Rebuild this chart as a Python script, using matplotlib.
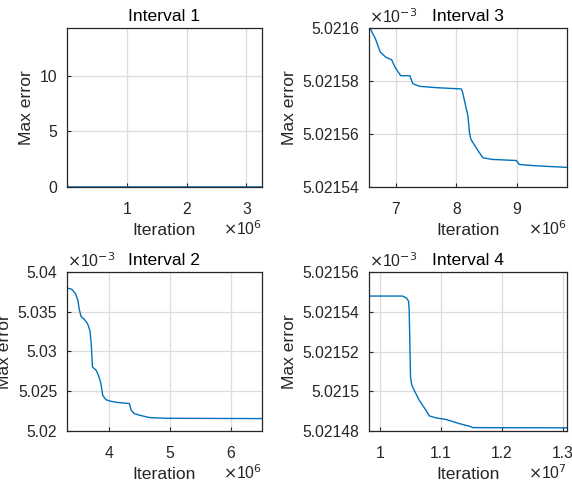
import matplotlib
matplotlib.use("Agg")
import matplotlib.pyplot as plt
from matplotlib.ticker import FuncFormatter, FixedLocator

plt.rcParams['font.family'] = ['Liberation Sans', 'DejaVu Sans']

# ---- data (x in iterations, y in units of 1e-3 except interval 1) ----
it1 = [1, 2000, 10000, 50000, 200000, 1000000, 2000000, 3260000]
err1 = [14.3, 0.4, 0.02, 0.0052, 0.00505, 0.00504, 0.00504, 0.00504]

it2 = [3.30e6, 3.38e6, 3.44e6, 3.48e6, 3.50e6, 3.53e6, 3.59e6, 3.64e6, 3.68e6,
       3.70e6, 3.72e6, 3.78e6, 3.82e6, 3.86e6, 3.89e6, 3.94e6, 4.00e6, 4.11e6,
       4.33e6, 4.36e6, 4.41e6, 4.50e6, 4.66e6, 4.94e6, 6.52e6]
err2 = [5.03799, 5.03782, 5.03728, 5.03644, 5.03539, 5.03443, 5.03401, 5.03350, 5.03258,
        5.03099, 5.02806, 5.02764, 5.02701, 5.02596, 5.02449, 5.02395, 5.02378, 5.02361,
        5.02345, 5.02261, 5.02219, 5.02198, 5.02169, 5.02160, 5.02156]

it3 = [6.57e6, 6.66e6, 6.74e6, 6.83e6, 6.93e6, 6.99e6, 7.08e6, 7.23e6, 7.28e6, 7.39e6,
       7.66e6, 8.08e6, 8.10e6, 8.14e6, 8.19e6, 8.22e6, 8.24e6, 8.35e6, 8.44e6, 8.60e6,
       8.99e6, 9.04e6, 9.32e6, 9.83e6]
err3 = [5.021600, 5.021596, 5.021591, 5.021589, 5.021588, 5.021585, 5.021582, 5.021582,
        5.021579, 5.021578, 5.0215775, 5.021577, 5.021576, 5.021572, 5.021567, 5.021560,
        5.021558, 5.021554, 5.021551, 5.0215504, 5.021550, 5.0215485, 5.021548, 5.0215474]

it4 = [0.9819e7, 1.0368e7, 1.0434e7, 1.0467e7, 1.0478e7, 1.0489e7, 1.0500e7, 1.0522e7,
       1.0560e7, 1.0643e7, 1.0753e7, 1.0808e7, 1.0918e7, 1.1082e7, 1.1302e7, 1.1467e7,
       1.1522e7, 1.3071e7]
err4 = [5.0215479, 5.0215479, 5.0215469, 5.0215454, 5.0215407, 5.021524, 5.0215072,
        5.021503, 5.0215005, 5.0214955, 5.0214904, 5.0214876, 5.0214866, 5.0214858,
        5.0214837, 5.0214824, 5.0214817, 5.0214816]

titles = ["Interval 1", "Interval 2", "Interval 3", "Interval 4"]

W, H = 572, 488
fig = plt.figure(figsize=(W / 100, H / 100), dpi=100)

def rect(l, t, r, b):
    return [l / W, 1 - b / H, (r - l) / W, (b - t) / H]

panels = [
    dict(rect=rect(67, 28, 262, 187), x=it1, y=err1, title=titles[0],
         xlim=(0, 3.26e6), ylim=(0, 14.3), xticks=[1e6, 2e6, 3e6], xscale=1e6, xexp="6",
         yticks=[0, 5, 10], ylabels=["0", "5", "10"], yexp=None),
    dict(rect=rect(67, 272, 262, 431), x=it2, y=err2, title=titles[1],
         xlim=(3.30e6, 6.52e6), ylim=(5.02, 5.04), xticks=[4e6, 5e6, 6e6], xscale=1e6, xexp="6",
         yticks=[5.02, 5.025, 5.03, 5.035, 5.04],
         ylabels=["5.02", "5.025", "5.03", "5.035", "5.04"], yexp="-3"),
    dict(rect=rect(369, 28, 567, 187), x=it3, y=err3, title=titles[2],
         xlim=(6.555e6, 9.83e6), ylim=(5.02154, 5.0216), xticks=[7e6, 8e6, 9e6], xscale=1e6, xexp="6",
         yticks=[5.02154, 5.02156, 5.02158, 5.0216],
         ylabels=["5.02154", "5.02156", "5.02158", "5.0216"], yexp="-3"),
    dict(rect=rect(369, 272, 567, 431), x=it4, y=err4, title=titles[3],
         xlim=(0.9819e7, 1.3066e7), ylim=(5.02148, 5.02156), xticks=[1.0e7, 1.1e7, 1.2e7, 1.3e7],
         xscale=1e7, xexp="7",
         yticks=[5.02148, 5.0215, 5.02152, 5.02154, 5.02156],
         ylabels=["5.02148", "5.0215", "5.02152", "5.02154", "5.02156"], yexp="-3"),
]

dark = "#262626"
for p in panels:
    ax = fig.add_axes(p["rect"])
    ax.plot(p["x"], p["y"], color="#0072BD", lw=1.0, clip_on=True)
    ax.set_xlim(*p["xlim"])
    ax.set_ylim(*p["ylim"])
    ax.xaxis.set_major_locator(FixedLocator(p["xticks"]))
    s = p["xscale"]
    ax.xaxis.set_major_formatter(FuncFormatter(lambda v, pos, s=s: f"{v / s:g}"))
    ax.set_yticks(p["yticks"])
    ax.set_yticklabels(p["ylabels"])
    ax.grid(True, color="#dcdcdc", lw=0.9)
    ax.set_axisbelow(True)
    for sp in ax.spines.values():
        sp.set_color(dark)
        sp.set_linewidth(0.9)
    ax.tick_params(direction="in", length=3, width=0.8, colors=dark, labelsize=11.3,
                   labelcolor=dark)
    ax.tick_params(axis="x", pad=11)
    ax.tick_params(axis="y", pad=7)
    ax.set_xlabel("Iteration", fontsize=12.6, color=dark, labelpad=4)
    ax.set_ylabel("Max error", fontsize=12.6, color=dark, labelpad=4)
    ax.set_title(p["title"], fontsize=12.6, color="black", pad=5)
    ax.text(1.0, -0.265, r"$\times$10$^{" + p["xexp"] + "}$", transform=ax.transAxes,
            ha="right", va="center", fontsize=11.3, color=dark)
    if p["yexp"]:
        ax.text(0.0, 1.01, r"$\times$10$^{" + p["yexp"] + "}$", transform=ax.transAxes,
                ha="left", va="bottom", fontsize=11.3, color=dark)

fig.savefig("out.png", dpi=100, facecolor="white")
